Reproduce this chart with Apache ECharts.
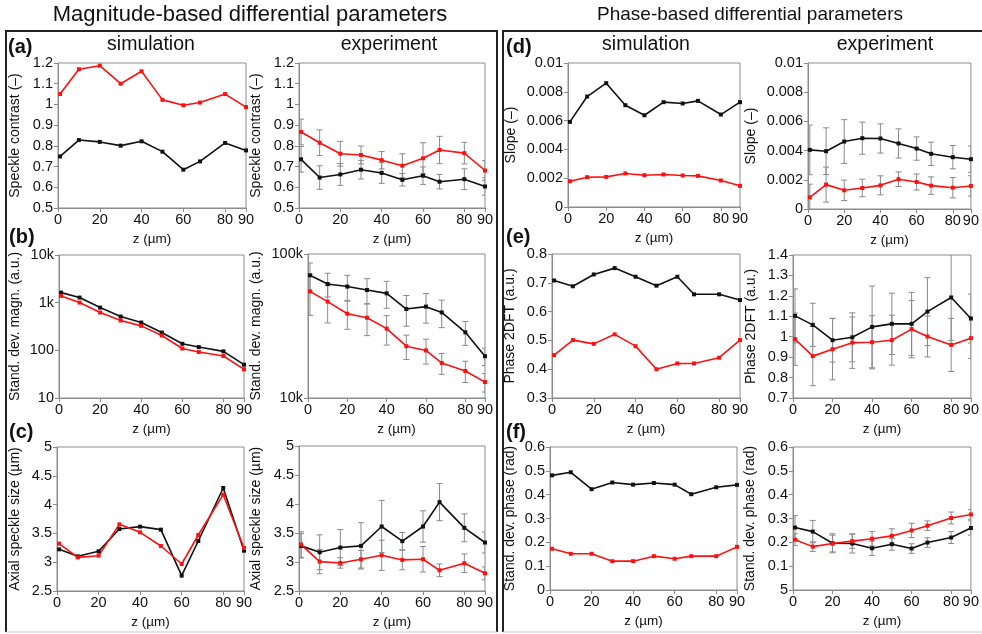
<!DOCTYPE html>
<html>
<head>
<meta charset="utf-8">
<script src="https://cdn.jsdelivr.net/npm/echarts@6/dist/echarts.min.js"></script>
<style>
  html, body { margin: 0; padding: 0; background: #fff; }
  #chart { width: 982px; height: 634px; }
</style>
</head>
<body>
<div id="chart"></div>
<script>
// Depth positions of the measurements and the labelled ticks on every z axis
const zValues = [1, 10, 20, 30, 40, 50, 60, 68, 80, 90];
const zTicks = [0, 20, 40, 60, 80, 90];

// (a) speckle contrast
const contrastSimRed = [1.05, 1.17, 1.187, 1.10, 1.16, 1.022, 0.996, 1.009, 1.05, 0.987];
const contrastSimBlack = [0.749, 0.828, 0.819, 0.801, 0.822, 0.772, 0.685, 0.725, 0.814, 0.778];
const contrastExpRed = [0.867, 0.815, 0.762, 0.756, 0.731, 0.704, 0.74, 0.78, 0.765, 0.681];
const contrastExpRedErr = [0.062, 0.062, 0.06, 0.043, 0.042, 0.058, 0.075, 0.066, 0.052, 0.048];
const contrastExpBlack = [0.735, 0.647, 0.662, 0.685, 0.669, 0.636, 0.656, 0.627, 0.639, 0.604];
const contrastExpBlackErr = [0.062, 0.057, 0.053, 0.045, 0.05, 0.03, 0.042, 0.035, 0.05, 0.042];

// (b) standard deviation of the magnitude
const magSimBlack = [1626, 1280, 789, 511, 383, 236, 137, 117, 95, 50];
const magSimRed = [1387, 1005, 621, 422, 326, 205, 109, 92, 76, 40];
const magExpBlack = [71100, 61900, 59400, 56200, 53300, 41500, 43100, 39300, 28600, 19500];
const magExpBlackErr = [15500, 11600, 11700, 11200, 11300, 10000, 10000, 8500, 5400, 2700];
const magExpRed = [55000, 46700, 38500, 36100, 30300, 22900, 21400, 17500, 15400, 12900];
const magExpRedErr = [17500, 13500, 8500, 9000, 7000, 4400, 4200, 2900, 2600, 1900];

// (c) axial speckle size
const axialSimBlack = [3.223, 3.102, 3.189, 3.576, 3.617, 3.565, 2.766, 3.368, 4.288, 3.2];
const axialSimRed = [3.322, 3.084, 3.113, 3.657, 3.519, 3.281, 2.969, 3.472, 4.172, 3.247];
const axialExpBlack = [3.278, 3.168, 3.249, 3.278, 3.612, 3.359, 3.612, 4.032, 3.589, 3.336];
const axialExpBlackErr = [0.21, 0.3, 0.31, 0.4, 0.45, 0.15, 0.27, 0.32, 0.24, 0.18];
const axialExpRed = [3.301, 3.007, 2.984, 3.047, 3.116, 3.036, 3.047, 2.857, 2.978, 2.805];
const axialExpRedErr = [0.22, 0.21, 0.09, 0.15, 0.26, 0.17, 0.22, 0.11, 0.16, 0.11];

// (d) slope
const slopeSimBlack = [0.00591, 0.00767, 0.0086, 0.00707, 0.00637, 0.00728, 0.00719, 0.00737, 0.00642, 0.00728];
const slopeSimRed = [0.00179, 0.00207, 0.00209, 0.00233, 0.00221, 0.00226, 0.00219, 0.00216, 0.00184, 0.00147];
const slopeExpBlack = [0.00405, 0.00396, 0.00462, 0.00485, 0.00483, 0.00449, 0.00414, 0.00378, 0.00355, 0.00341];
const slopeExpBlackErr = [0.0017, 0.0016, 0.0015, 0.0011, 0.001, 0.001, 0.0008, 0.0008, 0.0008, 0.0009];
const slopeExpRed = [0.0008, 0.00167, 0.00128, 0.00144, 0.00162, 0.00204, 0.00185, 0.0016, 0.00146, 0.00158];
const slopeExpRedErr = [0.0009, 0.0012, 0.0007, 0.0006, 0.00065, 0.0005, 0.00055, 0.0006, 0.0007, 0.0007];

// (e) phase 2DFT
const dftSimBlack = [0.708, 0.688, 0.729, 0.751, 0.721, 0.69, 0.721, 0.66, 0.66, 0.64];
const dftSimRed = [0.449, 0.501, 0.488, 0.521, 0.48, 0.4, 0.42, 0.42, 0.44, 0.501];
const dftExpBlack = [1.102, 1.058, 0.983, 0.997, 1.048, 1.063, 1.063, 1.123, 1.192, 1.089];
const dftExpBlackErr = [0.132, 0.106, 0.107, 0.12, 0.2, 0.15, 0.154, 0.166, 0.21, 0.12];
const dftExpRed = [0.988, 0.905, 0.939, 0.971, 0.973, 0.983, 1.037, 1.001, 0.96, 0.993];
const dftExpRedErr = [0.128, 0.145, 0.15, 0.126, 0.13, 0.122, 0.14, 0.1, 0.13, 0.1];

// (f) standard deviation of the phase
const phaseSimBlack = [0.481, 0.494, 0.423, 0.451, 0.442, 0.449, 0.442, 0.402, 0.431, 0.441];
const phaseSimRed = [0.173, 0.152, 0.152, 0.121, 0.121, 0.142, 0.131, 0.142, 0.142, 0.181];
const phaseExpBlack = [0.262, 0.245, 0.196, 0.195, 0.175, 0.192, 0.174, 0.199, 0.22, 0.26];
const phaseExpBlackErr = [0.05, 0.047, 0.04, 0.04, 0.03, 0.025, 0.02, 0.02, 0.025, 0.03];
const phaseExpRed = [0.211, 0.182, 0.195, 0.205, 0.215, 0.227, 0.25, 0.27, 0.302, 0.317];
const phaseExpRedErr = [0.025, 0.02, 0.035, 0.03, 0.03, 0.03, 0.03, 0.02, 0.025, 0.02];

// Printed text of the lowest tick on the experimental phase-deviation axis
const phaseExpBottomTickText = '5';

const FONT = '"Liberation Sans", Arial, Helvetica, sans-serif';
const RED = '#ff1010';
const BLACK = '#111111';
const AXIS_GREY = '#8c8c8c';
const ERR_GREY = '#8a8a8a';

const kFormat = v => (v >= 1000 ? (v / 1000) + 'k' : String(v));

const panels = [
  // row 1
  { box: [58, 63, 188, 145], y: { min: 0.5, max: 1.2, interval: 0.1 }, name: 'Speckle contrast (–)', gap: 36,
    black: contrastSimBlack, red: contrastSimRed },
  { box: [299, 63, 186, 145], y: { min: 0.5, max: 1.2, interval: 0.1 }, name: 'Speckle contrast (–)', gap: 36,
    black: contrastExpBlack, blackErr: contrastExpBlackErr, red: contrastExpRed, redErr: contrastExpRedErr },
  { box: [568, 63, 172, 144], y: { min: 0, max: 0.01, interval: 0.002 }, name: 'Slope (–)', gap: 50,
    black: slopeSimBlack, red: slopeSimRed },
  { box: [808, 63, 173, 146], y: { min: 0, max: 0.01, interval: 0.002 }, name: 'Slope (–)', gap: 50,
    black: slopeExpBlack, blackErr: slopeExpBlackErr, red: slopeExpRed, redErr: slopeExpRedErr },
  // row 2
  { box: [59, 255, 185, 143], y: { log: true, min: 10, max: 10000 }, name: 'Stand. dev. magn. (a.u.)', gap: 37,
    black: magSimBlack, red: magSimRed },
  { box: [308, 254, 177, 144], y: { log: true, min: 10000, max: 100000 }, name: 'Stand. dev. magn. (a.u.)', gap: 45,
    black: magExpBlack, blackErr: magExpBlackErr, red: magExpRed, redErr: magExpRedErr },
  { box: [552, 254, 188, 144], y: { min: 0.3, max: 0.8, interval: 0.1 }, name: 'Phase 2DFT (a.u.)', gap: 35,
    black: dftSimBlack, red: dftSimRed },
  { box: [793, 255, 188, 143], y: { min: 0.7, max: 1.4, interval: 0.1 }, name: 'Phase 2DFT (a.u.)', gap: 35,
    black: dftExpBlack, blackErr: dftExpBlackErr, red: dftExpRed, redErr: dftExpRedErr },
  // row 3
  { box: [57, 447, 187, 144], y: { min: 2.5, max: 5, interval: 0.5 }, name: 'Axial speckle size (µm)', gap: 35,
    black: axialSimBlack, red: axialSimRed },
  { box: [299, 446, 186, 145], y: { min: 2.5, max: 5, interval: 0.5 }, name: 'Axial speckle size (µm)', gap: 36,
    black: axialExpBlack, blackErr: axialExpBlackErr, red: axialExpRed, redErr: axialExpRedErr },
  { box: [550, 447, 187, 143], y: { min: 0, max: 0.6, interval: 0.1 }, name: 'Stand. dev. phase (rad)', gap: 33,
    black: phaseSimBlack, red: phaseSimRed },
  { box: [793, 447, 188, 143], y: { min: 0, max: 0.6, interval: 0.1, bottomText: phaseExpBottomTickText },
    name: 'Stand. dev. phase (rad)', gap: 36,
    black: phaseExpBlack, blackErr: phaseExpBlackErr, red: phaseExpRed, redErr: phaseExpRedErr }
];

const zip = vals => zValues.map((z, i) => [z, vals[i]]);
const errRows = (vals, errs) => zValues.map((z, i) => [z, vals[i] - errs[i], vals[i] + errs[i]]);

function renderErrorBar(params, api) {
  const x = api.value(0);
  const lo = api.coord([x, api.value(1)]);
  const hi = api.coord([x, api.value(2)]);
  const cap = 3;
  const style = { stroke: ERR_GREY, lineWidth: 1 };
  return {
    type: 'group',
    children: [
      { type: 'line', shape: { x1: lo[0], y1: lo[1], x2: hi[0], y2: hi[1] }, style },
      { type: 'line', shape: { x1: hi[0] - cap, y1: hi[1], x2: hi[0] + cap, y2: hi[1] }, style },
      { type: 'line', shape: { x1: lo[0] - cap, y1: lo[1], x2: lo[0] + cap, y2: lo[1] }, style }
    ]
  };
}

const grids = [], xAxes = [], yAxes = [], series = [];

panels.forEach((p, i) => {
  const [left, top, width, height] = p.box;
  grids.push({ left, top, width, height, show: true, borderColor: AXIS_GREY, borderWidth: 1 });

  xAxes.push({
    gridIndex: i, type: 'value', min: 0, max: 90,
    name: 'z (µm)', nameLocation: 'middle', nameGap: 24,
    nameTextStyle: { fontFamily: FONT, fontSize: 13.5, color: BLACK },
    axisLine: { lineStyle: { color: AXIS_GREY } },
    axisTick: { customValues: zTicks, length: 4, lineStyle: { color: AXIS_GREY } },
    axisLabel: { customValues: zTicks, fontFamily: FONT, fontSize: 14.5, color: BLACK, margin: 4 },
    splitLine: { show: false }
  });

  const y = p.y;
  const yAxis = {
    gridIndex: i, type: y.log ? 'log' : 'value', min: y.min, max: y.max,
    name: p.name, nameLocation: 'middle', nameGap: p.gap, nameRotate: 90,
    nameTextStyle: { fontFamily: FONT, fontSize: 14, color: BLACK },
    axisLine: { show: true, lineStyle: { color: AXIS_GREY } },
    axisTick: { show: true, length: 4, lineStyle: { color: AXIS_GREY } },
    axisLabel: { fontFamily: FONT, fontSize: 14.5, color: BLACK, margin: 5, showMinLabel: true, showMaxLabel: true },
    splitLine: { show: false },
    minorTick: { show: false }
  };
  if (y.log) {
    yAxis.logBase = 10;
    yAxis.axisLabel.formatter = kFormat;
  } else {
    yAxis.interval = y.interval;
    if (y.bottomText) {
      yAxis.axisLabel.formatter = v => (Math.abs(v - y.min) < 1e-9 ? y.bottomText : String(+v.toFixed(6)));
    }
  }
  yAxes.push(yAxis);

  const addErr = (vals, errs) => series.push({
    type: 'custom', xAxisIndex: i, yAxisIndex: i, renderItem: renderErrorBar,
    data: errRows(vals, errs), encode: { x: 0, y: [1, 2] }, clip: true, z: 1, silent: true
  });
  if (p.blackErr) addErr(p.black, p.blackErr);
  if (p.redErr) addErr(p.red, p.redErr);

  const addLine = (vals, color) => series.push({
    type: 'line', xAxisIndex: i, yAxisIndex: i, data: zip(vals),
    symbol: 'rect', symbolSize: 4, showSymbol: true,
    lineStyle: { color, width: 1.6 }, itemStyle: { color },
    z: 3, silent: true, animation: false
  });
  addLine(p.black, BLACK);
  addLine(p.red, RED);
});

const txt = (text, x, y, size, weight, align) => ({
  type: 'text', x, y,
  style: { text, fontFamily: FONT, fontSize: size, fontWeight: weight || 'normal',
           fill: BLACK, align: align || 'center', verticalAlign: 'middle' }
});
const edge = pts => ({ type: 'polyline', shape: { points: pts }, style: { stroke: '#222', lineWidth: 2, fill: null } });
const rule = pts => ({ type: 'polyline', shape: { points: pts }, style: { stroke: '#c8c8c8', lineWidth: 1, fill: null } });

const graphics = [
  txt('Magnitude-based differential parameters', 250, 15, 22),
  txt('Phase-based differential parameters', 750, 15, 19),
  edge([[6, 632], [6, 31], [497, 31], [497, 632]]),
  edge([[503, 632], [503, 31], [990, 31]]),
  rule([[6, 632], [497, 632]]),
  rule([[503, 632], [982, 632]]),
  txt('simulation', 151, 45, 19.5),
  txt('experiment', 389, 45, 19.5),
  txt('simulation', 646, 45, 19.5),
  txt('experiment', 885, 45, 19.5),
  txt('(a)', 8, 47, 20, 'bold', 'left'),
  txt('(b)', 9, 237, 20, 'bold', 'left'),
  txt('(c)', 9, 432, 20, 'bold', 'left'),
  txt('(d)', 506, 47, 20, 'bold', 'left'),
  txt('(e)', 506, 237, 20, 'bold', 'left'),
  txt('(f)', 506, 432, 20, 'bold', 'left')
];

const chart = echarts.init(document.getElementById('chart'), null, { renderer: 'canvas' });
chart.setOption({
  animation: false,
  backgroundColor: '#ffffff',
  grid: grids,
  xAxis: xAxes,
  yAxis: yAxes,
  series,
  graphic: graphics
});
</script>
</body>
</html>
